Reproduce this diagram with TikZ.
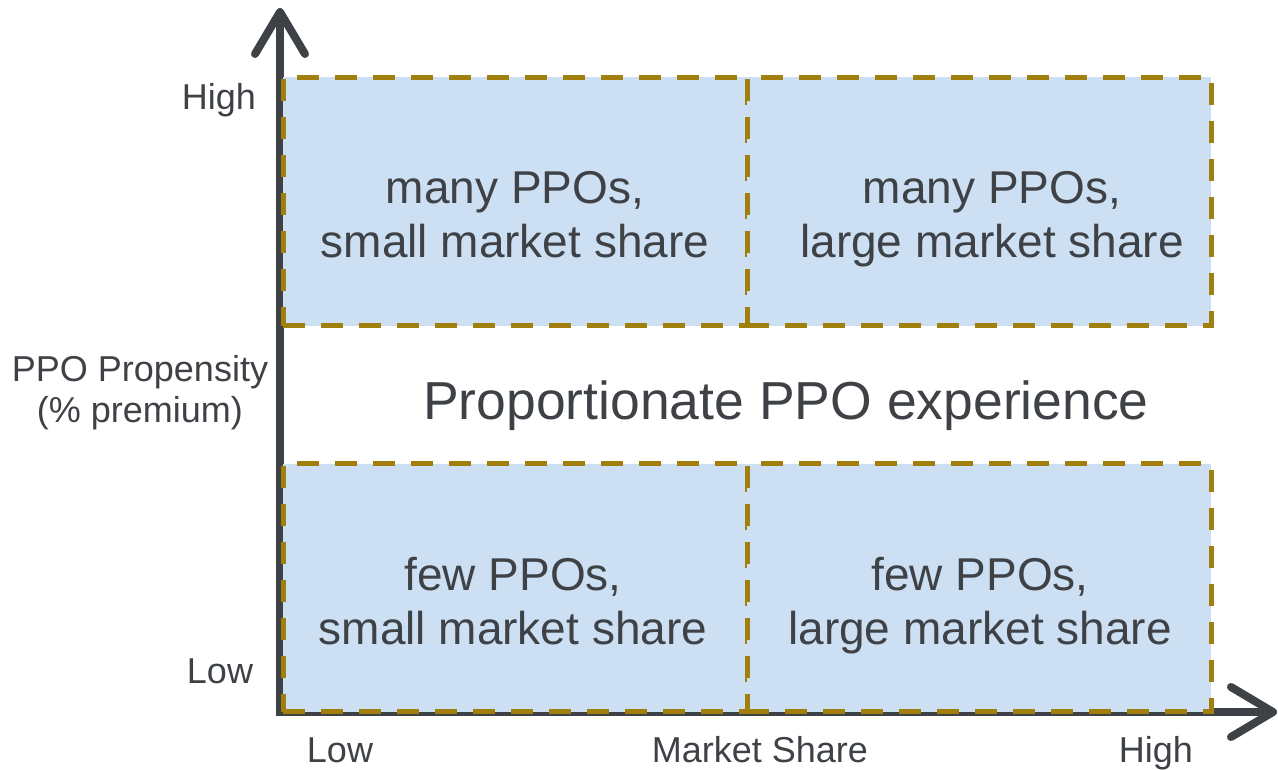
\documentclass[tikz,border=0pt]{standalone}
\usepackage{fontspec}
\setmainfont{Liberation Sans}
\usepackage{tikz}
\usetikzlibrary{positioning, arrows.meta}
\definecolor{axisgray}{RGB}{62,66,70}
\definecolor{cellblue}{RGB}{205,224,243}
\definecolor{cellgold}{RGB}{160,127,12}

\begin{document}
\begin{tikzpicture}[x=1pt,y=-1pt,
  cell/.style={draw=cellgold,fill=cellblue,line width=5pt,dash pattern=on 22pt off 16pt,
    minimum width=464pt,minimum height=248pt,inner sep=0pt,outer sep=0pt},
  celltext/.style={text=axisgray,align=center,anchor=north,inner sep=0pt,font=\fontsize{46}{54}\selectfont},
  axislabel/.style={text=axisgray,align=center,inner sep=0pt,font=\fontsize{36}{41}\selectfont},
  axis/.style={draw=axisgray,line width=8pt,line join=miter,>={Straight Barb[length=42pt,width=50pt,round]},<->}]
\useasboundingbox (0,0) rectangle (1278,770);
\coordinate (origin) at (280,712);
\coordinate (ytip) at (280,8);
\coordinate (xtip) at (1277,712);
\draw[axis] (ytip) -- (origin) -- (xtip);
% quadrants
\node[cell] (tl) at (515,201.5) {};
\node[cell,right=0pt of tl] (tr) {};
\node[cell,below=138pt of tl] (bl) {};
\node[cell,right=0pt of bl] (br) {};
\node[celltext] (tltext) at ([yshift=-94pt]tl.north) {many PPOs,\\small market share};
\node[celltext] (trtext) at ([xshift=13pt,yshift=-94pt]tr.north) {many PPOs,\\large market share};
\node[celltext] (bltext) at ([xshift=-2pt,yshift=-94pt]bl.north) {few PPOs,\\small market share};
\node[celltext] (brtext) at ([xshift=1pt,yshift=-94pt]br.north) {few PPOs,\\large market share};
\node[text=axisgray,anchor=base,font=\fontsize{53.5}{60}\selectfont] (middle) at (786,419) {Proportionate PPO experience};
% axis labels
\node[axislabel,anchor=base] (yhigh) at (219,110) {High};
\node[axislabel,anchor=base] (ylow) at (220,683) {Low};
\node[axislabel,anchor=north] (ytitle) at (140,355) {PPO Propensity\\(\% premium)};
\node[axislabel,anchor=base] (xlow) at (340,762) {Low};
\node[axislabel,anchor=base] (xtitle) at (760,762) {Market Share};
\node[axislabel,anchor=base] (xhigh) at (1156,762) {High};
\end{tikzpicture}
\end{document}
